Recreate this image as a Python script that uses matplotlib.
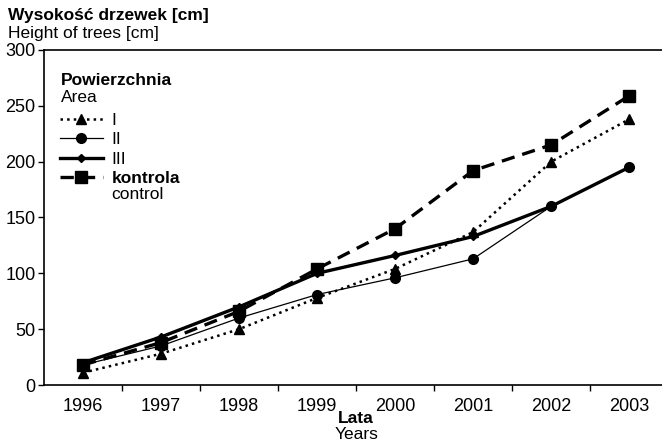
import matplotlib.pyplot as plt
import matplotlib.transforms as mtransforms
import numpy as np

plt.rcParams['font.family'] = ['Liberation Sans', 'DejaVu Sans']
plt.rcParams['font.size'] = 12.5

years = ['1996', '1997', '1998', '1999', '2000', '2001', '2002', '2003']
area_I = [11, 28, 50, 78, 104, 137, 200, 238]
area_II = [18, 35, 60, 81, 96, 113, 160, 195]
area_III = [20, 43, 70, 100, 116, 133, 160, 195]
control = [18, 38, 66, 104, 140, 192, 215, 259]
y_ticks = [0, 50, 100, 150, 200, 250, 300]

fig = plt.figure(figsize=(6.62, 4.40), dpi=100)
ax = fig.add_axes([44 / 662, 55 / 440, 1 - 44 / 662, 335 / 440])

x = np.arange(len(years))
ax.plot(x, area_I, color='black', linestyle=':', linewidth=1.8,
        marker='^', markersize=7, label='I')
ax.plot(x, area_II, color='black', linestyle='-', linewidth=0.9,
        marker='o', markersize=7, label='II')
ax.plot(x, area_III, color='black', linestyle='-', linewidth=2.4,
        marker='D', markersize=4.5, label='III')
ax.plot(x, control, color='black', linestyle=(0, (4, 2.4)), linewidth=2.4,
        marker='s', markersize=8, label='kontrola')

ax.set_xlim(-0.5, 7.42)
ax.set_ylim(0, 300)
ax.set_yticks(y_ticks)
ax.set_xticks(x)
ax.set_xticklabels(years)
ax.set_xticks(x[:-1] + 0.5, minor=True)
ax.tick_params(axis='x', which='major', length=0, pad=9)
ax.tick_params(axis='x', which='minor', length=4, width=1, direction='out')
ax.tick_params(axis='y', length=4, width=1, direction='out', pad=2,
               labelsize=13)
ax.tick_params(axis='x', labelsize=13)
ax.spines['right'].set_visible(False)
for s in ['top', 'bottom', 'left']:
    ax.spines[s].set_linewidth(1.2)

# titles of axes
fig.text(8 / 662, 1 - 8 / 440, 'Wysokość drzewek [cm]', fontweight='bold',
         ha='left', va='top')
fig.text(8 / 662, 1 - 26 / 440, 'Height of trees [cm]', ha='left', va='top')
trans = mtransforms.blended_transform_factory(ax.transData, fig.transFigure)
ax.text(3.5, 1 - 418 / 440, 'Lata', fontweight='bold', ha='center',
        va='center', transform=trans)
ax.text(3.5, 1 - 434 / 440, 'Years', ha='center', va='center', transform=trans)

# legend
leg = ax.legend(loc='upper left', bbox_to_anchor=(0.0, 0.86), frameon=False,
                handlelength=2.5, handletextpad=0.5, labelspacing=0.25,
                borderaxespad=0.5)
for t in leg.get_texts():
    if t.get_text() == 'kontrola':
        t.set_fontweight('bold')
ax.text(0.027, 0.91, 'Powierzchnia', fontweight='bold', transform=ax.transAxes,
        ha='left', va='center')
ax.text(0.027, 0.858, 'Area', transform=ax.transAxes, ha='left', va='center')

fig.canvas.draw()
bb = leg.get_texts()[-1].get_window_extent()
inv = fig.transFigure.inverted()
x0, y0 = inv.transform((bb.x0, bb.y0))
fig.text(x0, y0 - 1 / 440, 'control', ha='left', va='top')

fig.savefig('out.png', dpi=100)
